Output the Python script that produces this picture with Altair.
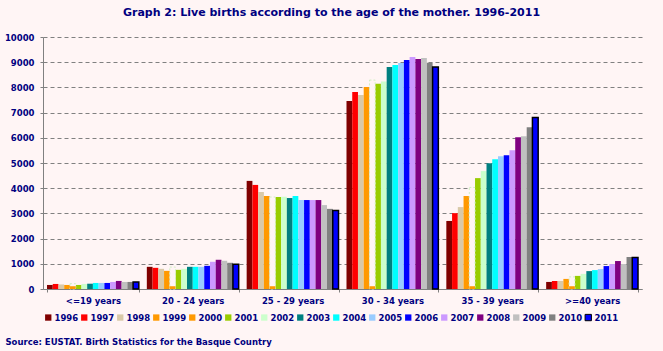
import altair as alt
import pandas as pd

groups = ["<=19 years", "20 - 24 years", "25 - 29 years", "30 - 34 years", "35 - 39 years", ">=40 years"]
years = ["1996", "1997", "1998", "1999", "2000", "2001", "2002", "2003",
         "2004", "2005", "2006", "2007", "2008", "2009", "2010", "2011"]

v1996 = [160, 880, 4290, 7460, 2700, 280]
v1997 = [200, 840, 4130, 7820, 3010, 320]
v1998 = [180, 800, 3850, 7700, 3250, 320]
v1999 = [160, 720, 3690, 8020, 3690, 400]
v2000 = [210, 870, 3650, 8290, 4030, 480]
v2001 = [160, 760, 3650, 8140, 4400, 520]
v2002 = [200, 800, 3660, 8230, 4680, 600]
v2003 = [210, 880, 3610, 8810, 4990, 710]
v2004 = [240, 880, 3690, 8890, 5150, 750]
v2005 = [240, 880, 3530, 8970, 5270, 790]
v2006 = [240, 920, 3530, 9090, 5310, 910]
v2007 = [280, 1080, 3530, 9210, 5510, 990]
v2008 = [320, 1160, 3530, 9130, 6020, 1110]
v2009 = [280, 1120, 3330, 9170, 6060, 990]
v2010 = [280, 1040, 3180, 8980, 6420, 1270]
v2011 = [280, 980, 3120, 8810, 6810, 1250]
stub_2000 = [110, 110, 110, 110, 110, 110]

series = [v1996, v1997, v1998, v1999, v2000, v2001, v2002, v2003,
          v2004, v2005, v2006, v2007, v2008, v2009, v2010, v2011]

fill_colors = ["#800000", "#FF0000", "#D9C9A8", "#FF9900", "#FF9900", "#99CC00",
               "#CCFFCC", "#008080", "#00FFFF", "#99CCFF", "#0000FF", "#CC99FF",
               "#800080", "#C0C0C0", "#808080", "#0000FF"]
stroke_colors = ["transparent"] * 15 + ["#000000"]

BG = "#FFF5F5"
NAVY = "#000080"
GRAY = "#808080"
FONT = "DejaVu Sans"

rows = []
for yr, vals in zip(years, series):
    for g, v in zip(groups, vals):
        rows.append({"group": g, "year": yr, "births": v})
df = pd.DataFrame(rows)
main_df = df[df["year"] != "2000"]
df2000 = df[df["year"] == "2000"].copy()
df2000["stub"] = stub_2000

x_enc = alt.X(
    "group:N", sort=groups,
    scale=alt.Scale(domain=groups, paddingInner=0.08, paddingOuter=0.04),
    axis=alt.Axis(
        title="Source: EUSTAT. Birth Statistics for the Basque Country",
        titleFont=FONT, titleFontSize=8.5, titleFontWeight="bold", titleColor=NAVY,
        titleAnchor="start", titleAlign="left", titleX=-38, titleY=52,
        titleBaseline="middle",
        labelAngle=0, labelFont=FONT, labelFontSize=8.5, labelFontWeight="bold",
        labelColor=NAVY, labelPadding=4, tickBand="extent", tickSize=3,
        tickColor=GRAY, domainColor=GRAY, grid=False,
    ),
)
xo_enc = alt.XOffset("year:N", scale=alt.Scale(domain=years, paddingInner=0, paddingOuter=0))
y_axis = alt.Axis(
    values=list(range(0, 10001, 1000)), title=None, format="d",
    labelFont=FONT, labelFontSize=8.5, labelFontWeight="bold", labelColor=NAVY,
    labelPadding=6, tickSize=3, tickColor=GRAY, domainColor=GRAY,
    grid=True, gridColor=GRAY, gridDash=[4, 3], gridWidth=1,
)
y_scale = alt.Scale(domain=[0, 10000], nice=False)

legend = alt.Legend(
    orient="none", legendX=1, legendY=276, direction="horizontal", columns=16,
    title=None, symbolType="square", symbolSize=40, symbolStrokeWidth=1,
    labelFont=FONT, labelFontSize=8.5, labelFontWeight="bold", labelColor=NAVY,
    labelOffset=2, columnPadding=0, padding=0, rowPadding=0,
)

bars = alt.Chart(main_df).mark_bar(strokeWidth=1.5).encode(
    x=x_enc, xOffset=xo_enc,
    y=alt.Y("births:Q", scale=y_scale, axis=y_axis),
    fill=alt.Fill("year:N", scale=alt.Scale(domain=years, range=fill_colors), legend=legend),
    stroke=alt.Stroke("year:N", scale=alt.Scale(domain=years, range=stroke_colors), legend=legend),
)

outline2000 = alt.Chart(df2000).mark_bar(
    fill=BG, stroke="#CFEFC0", strokeWidth=1, strokeDash=[2, 2]
).encode(
    x=x_enc, xOffset=xo_enc,
    y=alt.Y("births:Q", scale=y_scale, axis=y_axis),
)

stub = alt.Chart(df2000).mark_bar(fill="#FF9900").encode(
    x=x_enc, xOffset=xo_enc,
    y=alt.Y("stub:Q", scale=y_scale, axis=y_axis),
)

chart = alt.layer(bars, outline2000, stub).properties(
    width=599, height=252,
    title=alt.TitleParams(
        "Graph 2: Live births according to the age of the mother. 1996-2011",
        font=FONT, fontSize=11, fontWeight="bold", color=NAVY,
        anchor="middle", frame="group", dx=-11, offset=15,
    ),
    autosize=alt.AutoSizeParams(type="none"),
    padding={"left": 43, "top": 37, "right": 21, "bottom": 62},
    background=BG,
).configure_view(stroke=None)

chart.save("out.html", embed_options={"renderer": "svg", "actions": False})
